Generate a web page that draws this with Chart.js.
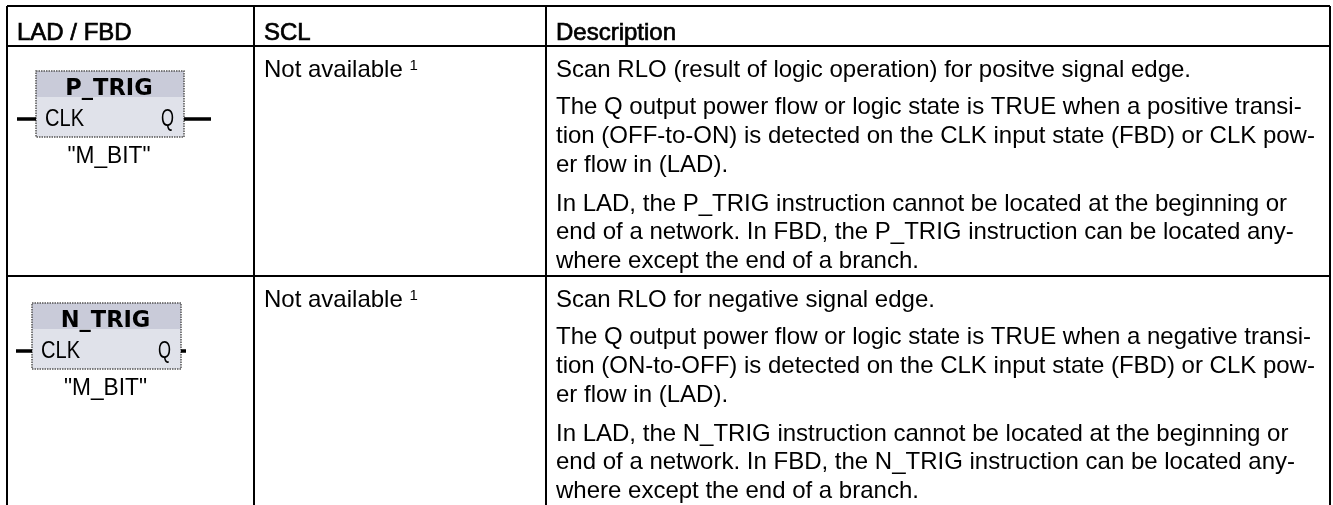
<!DOCTYPE html>
<html>
<head>
<meta charset="utf-8">
<title>P_TRIG and N_TRIG</title>
<script src="https://cdn.jsdelivr.net/npm/chart.js@4"></script>
<style>
  html, body { margin: 0; padding: 0; background: #fff; }
  #wrap { width: 1333px; height: 505px; }
</style>
</head>
<body>
<div id="wrap"><canvas id="tableChart" width="1333" height="505"></canvas></div>
<script>
// table rules, in table units (1 unit = 1px), used as axis ticks
const columnEdges = [0, 247, 539, 1323];
const rowEdges = [0, 40, 270];

const headers = ["LAD / FBD", "SCL", "Description"];
const sclText = ["Not available ", "Not available "];
const footnote = "1";

const row1Lines = [
    "Scan RLO (result of logic operation) for positve signal edge.",
    "The Q output power flow or logic state is TRUE when a positive transi-",
    "tion (OFF-to-ON) is detected on the CLK input state (FBD) or CLK pow-",
    "er flow in (LAD).",
    "In LAD, the P_TRIG instruction cannot be located at the beginning or",
    "end of a network. In FBD, the P_TRIG instruction can be located any-",
    "where except the end of a branch."
];
const row2Lines = [
    "Scan RLO for negative signal edge.",
    "The Q output power flow or logic state is TRUE when a negative transi-",
    "tion (ON-to-OFF) is detected on the CLK input state (FBD) or CLK pow-",
    "er flow in (LAD).",
    "In LAD, the N_TRIG instruction cannot be located at the beginning or",
    "end of a network. In FBD, the N_TRIG instruction can be located any-",
    "where except the end of a branch."
];
const row1Baselines = [71, 108, 137, 166, 205, 233, 262];
const row2Baselines = [301, 338, 367, 396, 435, 463, 492];

const blockNames = ["P_TRIG", "N_TRIG"];
const blockBit = "\"M_BIT\"";

const tablePlugin = {
    id: "tableText",
    afterDraw(chart) {
        const ctx = chart.ctx;
        const x = v => chart.scales.x.getPixelForValue(v);
        const y = v => chart.scales.y.getPixelForValue(v);
        const bodyFont = '24px "Liberation Sans"';

        ctx.save();
        ctx.textBaseline = "alphabetic";
        ctx.fillStyle = "#000";

        // header row, the source has it slightly emboldened
        ctx.font = bodyFont;
        ctx.strokeStyle = "#000";
        ctx.lineWidth = 0.7;
        headers.forEach((h, i) => {
            ctx.fillText(h, x(columnEdges[i]) + 10, y(34));
            ctx.strokeText(h, x(columnEdges[i]) + 10, y(34));
        });

        // SCL column
        sclText.forEach((t, i) => {
            const py = y(i === 0 ? row1Baselines[0] : row2Baselines[0]);
            ctx.font = bodyFont;
            ctx.fillText(t, x(columnEdges[1]) + 10, py);
            const w = ctx.measureText(t).width;
            ctx.font = '15px "Liberation Sans"';
            ctx.fillText(footnote, x(columnEdges[1]) + 10 + w, py - 7);
        });

        // description column
        ctx.font = bodyFont;
        row1Lines.forEach((l, i) => ctx.fillText(l, x(columnEdges[2]) + 10, y(row1Baselines[i])));
        row2Lines.forEach((l, i) => ctx.fillText(l, x(columnEdges[2]) + 10, y(row2Baselines[i])));

        // instruction boxes
        drawBlock(ctx, x, y, blockNames[0], 29, 65, 148, 66, 10, 204);
        drawBlock(ctx, x, y, blockNames[1], 25, 297, 149, 66, 9, 179);
        ctx.restore();
    }
};

function drawBlock(ctx, x, y, name, left, top, w, h, wireFrom, wireTo) {
    const px = x(left), py = y(top);
    ctx.fillStyle = "#e0e2ea";
    ctx.fillRect(px, py, w, h);
    ctx.fillStyle = "#c9cbd9";
    ctx.fillRect(px, py, w, 26);
    ctx.strokeStyle = "#555";
    ctx.lineWidth = 1.5;
    ctx.setLineDash([1.5, 1]);
    ctx.strokeRect(px, py, w, h);
    ctx.setLineDash([]);

    // power flow wires
    ctx.strokeStyle = "#000";
    ctx.lineWidth = 3.5;
    ctx.beginPath();
    ctx.moveTo(x(wireFrom), py + 48);
    ctx.lineTo(px, py + 48);
    ctx.moveTo(px + w, py + 48);
    ctx.lineTo(x(wireTo), py + 48);
    ctx.stroke();

    // the box font is narrow, squeeze it with maxWidth
    ctx.fillStyle = "#000";
    ctx.textAlign = "center";
    ctx.font = 'bold 22.5px "DejaVu Sans"';
    ctx.fillText(name, px + w / 2 - 1, py + 24);
    ctx.textAlign = "left";
    ctx.font = '24px "Liberation Sans"';
    ctx.fillText("CLK", px + 9, py + 55, 39);
    ctx.textAlign = "right";
    ctx.fillText("Q", px + w - 10, py + 55, 13);
    ctx.textAlign = "center";
    ctx.fillText(blockBit, px + w / 2 - 1, py + 92, 83);
    ctx.textAlign = "left";
}

new Chart(document.getElementById("tableChart"), {
    type: "scatter",
    data: { datasets: [{ data: [], pointRadius: 0 }] },
    plugins: [tablePlugin],
    options: {
        responsive: false,
        animation: false,
        layout: { padding: { left: 7, top: 6, right: 3, bottom: 0 } },
        plugins: { legend: { display: false }, tooltip: { enabled: false } },
        scales: {
            x: {
                type: "linear",
                min: 0,
                max: 1323,
                afterBuildTicks: s => { s.ticks = columnEdges.map(v => ({ value: v })); },
                ticks: { display: false },
                border: { display: false },
                grid: { color: "#000", lineWidth: 2, drawTicks: false }
            },
            y: {
                type: "linear",
                reverse: true,
                min: 0,
                max: 499,
                afterBuildTicks: s => { s.ticks = rowEdges.map(v => ({ value: v })); },
                ticks: { display: false },
                border: { display: false },
                grid: { color: "#000", lineWidth: 2, drawTicks: false }
            }
        }
    }
});
</script>
</body>
</html>
